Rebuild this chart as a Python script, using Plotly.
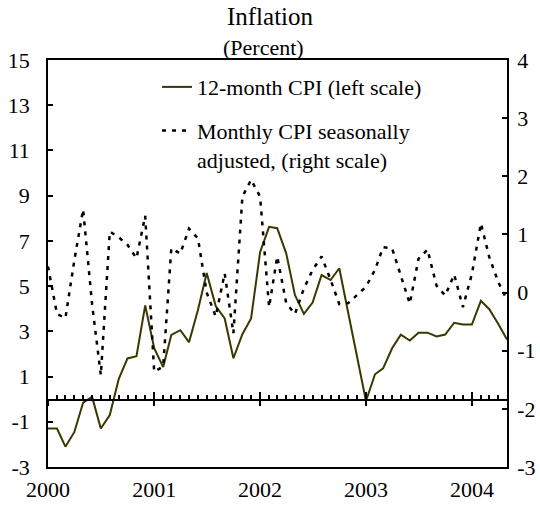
import pandas as pd
import plotly.graph_objects as go

# ---- data (Jan 2000 .. May 2004, monthly) ----
months = pd.date_range("2000-01-01", periods=53, freq="MS")

cpi_12m = [
    -1.30, -1.30, -2.10, -1.45, -0.15, 0.10, -1.30, -0.70, 0.90, 1.80, 1.90, 4.15,
    2.25, 1.42, 2.84, 3.05, 2.52, 3.95, 5.58, 4.12, 3.57, 1.81, 2.87, 3.57,
    6.50, 7.62, 7.56, 6.45, 4.61, 3.77, 4.27, 5.49, 5.27, 5.79, 3.80, 1.90,
    -0.08, 1.10, 1.36, 2.25, 2.85, 2.59, 2.94, 2.94, 2.77, 2.86, 3.38, 3.30,
    3.30, 4.35, 3.98, 3.32, 2.64,
]

cpi_monthly_sa = [
    0.45, -0.37, -0.44, 0.56, 1.43, -0.20, -1.42, 1.05, 0.95, 0.82, 0.59, 1.32,
    -1.36, -1.27, 0.76, 0.67, 1.10, 0.93, 0.00, -0.41, 0.33, -0.70, 1.65, 1.94,
    1.65, -0.25, 0.62, -0.18, -0.37, 0.07, 0.39, 0.62, 0.22, -0.20, -0.18, -0.05,
    0.10, 0.39, 0.78, 0.76, 0.30, -0.19, 0.58, 0.74, 0.12, -0.05, 0.31, -0.25,
    0.32, 1.19, 0.61, 0.18, -0.13,
]

year_ticks = ["2000-01-01", "2001-01-01", "2002-01-01", "2003-01-01", "2004-01-01"]
year_labels = ["2000", "2001", "2002", "2003", "2004"]
left_ticks = [-3, -1, 1, 3, 5, 7, 9, 11, 13, 15]
left_labels = ["-3", "-1", "1", "3", "5", "7", "9", "11", "13", "15"]
right_ticks = [-3, -2, -1, 0, 1, 2, 3, 4]
right_labels = ["-3", "-2", "-1", "0", "1", "2", "3", "4"]

FONT = "Liberation Serif"
FS = 22

fig = go.Figure()
fig.add_trace(go.Scatter(
    x=months, y=cpi_12m, mode="lines", name="12-month CPI (left scale)",
    line=dict(color="#383800", width=2), yaxis="y", legendgroup="a",
))
fig.add_trace(go.Scatter(
    x=months, y=cpi_monthly_sa, mode="lines",
    name="Monthly CPI seasonally<br>adjusted, (right scale)",
    line=dict(color="black", width=2.5, dash="4px,6px"), yaxis="y2", legendgroup="b",
))
# invisible helper traces so the zero-line category axes render
for ax in ["x2", "x3", "x4"]:
    fig.add_trace(go.Scatter(x=[months[0]], y=[0], xaxis=ax, yaxis="y3", mode="markers",
                             marker=dict(opacity=0), showlegend=False, hoverinfo="skip"))

xr = ["2000-01-01", "2004-05-01"]
zero_axis_common = dict(type="date", range=xr, overlaying="x", anchor="y3", side="bottom",
                        showgrid=False, zeroline=False, showticklabels=False,
                        tickmode="array", tickcolor="black", tickwidth=1.5,
                        automargin=False)
fig.update_layout(
    width=540, height=508,
    margin=dict(l=48, r=33, t=60, b=41, autoexpand=False),
    paper_bgcolor="white", plot_bgcolor="rgba(0,0,0,0)",
    font=dict(family=FONT, size=FS, color="black"),
    title=dict(text="Inflation", x=0.5, xanchor="center", y=0.968, yanchor="middle",
               font=dict(family=FONT, size=25)),
    annotations=[dict(text="(Percent)", xref="paper", yref="paper", x=0.47, y=1.0,
                      xanchor="center", yanchor="bottom", showarrow=False, yshift=-2,
                      font=dict(family=FONT, size=22))],
    showlegend=True,
    legend=dict(x=0.2375, y=0.985, xanchor="left", yanchor="top", bgcolor="rgba(0,0,0,0)",
                font=dict(family=FONT, size=FS), tracegroupgap=12, valign="top"),
    xaxis=dict(type="date", range=xr, showgrid=False, zeroline=False, automargin=False,
               showline=True, mirror=True, linecolor="black", linewidth=1.5,
               tickvals=year_ticks, ticktext=year_labels, ticks="",
               ticklabelstandoff=2),
    xaxis2=dict(**zero_axis_common, showline=True, linecolor="black", linewidth=2,
                tickvals=list(months), ticks="inside", ticklen=4),
    xaxis3=dict(**zero_axis_common, showline=False, tickvals=year_ticks,
                ticks="inside", ticklen=7),
    xaxis4=dict(**zero_axis_common, showline=False, tickvals=year_ticks,
                ticks="outside", ticklen=6),
    yaxis=dict(range=[-3, 15], tickvals=left_ticks, ticktext=left_labels,
               showgrid=False, zeroline=False, automargin=False,
               showline=True, linecolor="black", linewidth=1.5,
               ticks="inside", ticklen=5, tickcolor="black", tickwidth=1.5,
               ticklabelstandoff=12),
    yaxis2=dict(range=[-3, 4], tickvals=right_ticks, ticktext=right_labels,
                overlaying="y", side="right", automargin=False,
                showgrid=False, zeroline=False, showline=True, linecolor="black",
                linewidth=1.5, ticks="inside", ticklen=5, tickcolor="black",
                tickwidth=1.5, ticklabelstandoff=4),
    yaxis3=dict(domain=[1/6, 1], range=[0, 1], visible=False),
)

fig.write_html("out.html", config={"displayModeBar": False},
               post_script="document.body.style.margin='0';")
